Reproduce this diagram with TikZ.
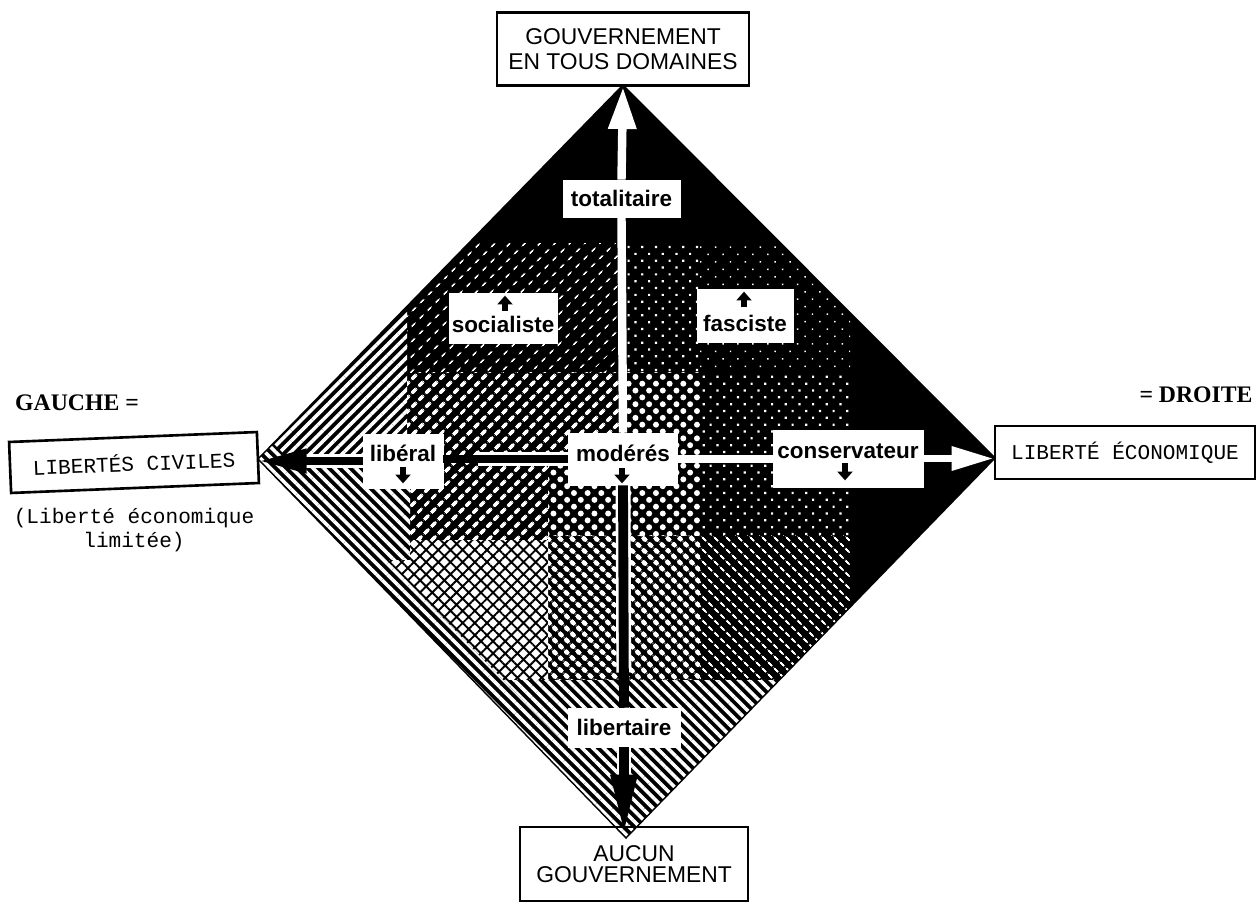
\documentclass[tikz,border=0pt]{standalone}
\usepackage{fontspec}
\setmainfont{Liberation Sans}
\newfontfamily\tmono{Liberation Mono}
\newfontfamily\tserif{Liberation Serif}
\usetikzlibrary{patterns.meta,arrows.meta,calc}

\newcommand\mkdash[5]{%
\pgfdeclarepattern{
  name=#1, type=uncolored,
  bottom left={\pgfpoint{0pt}{0pt}}, top right={\pgfpoint{#3}{#3}},
  tile size={\pgfpoint{#3}{#3}},
  tile transformation={\pgftransformrotate{#2}},
  code={\pgfsetlinewidth{#5}\pgfsetroundcap
    \pgfpathmoveto{\pgfpoint{0.5*#3-0.5*#4}{0.5*#3}}
    \pgfpathlineto{\pgfpoint{0.5*#3+0.5*#4}{0.5*#3}}
    \pgfusepath{stroke}}
}}
\mkdash{dNEs}{45}{6.5pt}{2.6pt}{1.1pt}
\mkdash{dNEb}{45}{5.8pt}{2.2pt}{2.4pt}
\mkdash{dNWb}{-45}{5pt}{3pt}{1.2pt}
\mkdash{dNWblob}{-45}{4.8pt}{1.3pt}{2.6pt}

\tikzset{
  wh/.style 2 args={minimum width=#1*0.02cm, minimum height=#2*0.02cm},
  obox/.style={draw, line width=1.5pt, inner sep=0pt, align=center},
  sansbig/.style={font=\fontsize{13}{14.2}\selectfont},
  monotxt/.style={font=\tmono\fontsize{12}{13.4}\selectfont},
  sertxt/.style={font=\tserif\bfseries\fontsize{13.5}{15}\selectfont},
  ibox/.style={fill=white, draw=white, inner sep=0pt, font=\bfseries\fontsize{12.8}{15}\selectfont},
  stripeNE/.style={pattern={Lines[angle=45,distance=4.3pt,line width=2pt]}, pattern color=white},
  stripeNW/.style={pattern={Lines[angle=-45,distance=4.3pt,line width=2pt]}, pattern color=white},
  dotsbig/.style={pattern={Dots[angle=45,distance=5.5pt,radius=1.7pt]}, pattern color=white},
  dotssmall/.style={pattern={Dots[angle=45,distance=5.5pt,radius=0.9pt]}, pattern color=white},
  dotstiny/.style={pattern={Dots[angle=45,distance=6pt,radius=0.6pt]}, pattern color=white},
  dashS/.style={pattern=dNEs, pattern color=white},
  dashB/.style={pattern=dNEb, pattern color=white},
  dashNW/.style={pattern=dNWb, pattern color=white},
  blobNW/.style={pattern=dNWblob, pattern color=white},
  xhatch/.style={pattern={Hatch[angle=45,distance=4.9pt,line width=1.1pt]}, pattern color=black},
  wbarv/.style={draw=white, line width=4.8pt},
  wbarh/.style={draw=white, line width=4pt},
  bbarv/.style={draw=black, line width=5.6pt, preaction={draw=white, line width=8.5pt, -, shorten >=20pt}},
  bbarh/.style={draw=black, line width=4.5pt, preaction={draw=white, line width=7.5pt, -, shorten >=20pt}},
  minarr/.style={draw=black, line width=3pt, -{Triangle[length=5pt,width=8.5pt]}}
}

\begin{document}
\begin{tikzpicture}[x=0.02cm, y=-0.02cm]
\useasboundingbox (0,0) rectangle (1258,903);

\coordinate (T) at (623,85);
\coordinate (L) at (258,459);
\coordinate (R) at (995,458);
\coordinate (B) at (626,838);

% ---------- shaded diamond ----------
\begin{scope}
  \clip (T) -- (R) -- (B) -- (L) -- cycle;
  \fill[black] (250,80) rectangle (1000,845);
  % left column (stripes along the upper-left edge)
  \fill[stripeNE] (250,242) rectangle (407,458);
  % upper band
  \fill[dashS] (407,243) rectangle (623,372);
  \fill[dotssmall] (623,243) rectangle (700,372);
  \fill[dotstiny] (700,243) rectangle (850,372);
  % lower part of upper half
  \fill[dashB] (407,372) rectangle (623,458);
  \fill[dotsbig] (623,372) rectangle (700,458);
  \fill[dotssmall] (700,372) rectangle (850,458);
  % upper part of lower half
  \fill[stripeNW] (250,458) rectangle (410,560);
  \fill[dashB] (410,458) rectangle (548,540);
  \fill[dotsbig] (548,458) rectangle (700,535);
  \fill[dotssmall] (700,458) rectangle (850,535);
  % crosshatch zone
  \fill[white] (340,560) -- (410,560) -- (410,540) -- (548,540) -- (548,690) -- (340,690) -- cycle;
  \fill[xhatch] (340,560) -- (410,560) -- (410,540) -- (548,540) -- (548,690) -- (340,690) -- cycle;
  \fill[blobNW] (548,535) rectangle (700,680);
  \fill[dashNW] (700,535) rectangle (850,680);
  % bottom band
  \fill[black] (250,680) rectangle (860,845);
  \fill[stripeNW] (250,680) rectangle (860,845);
  % band along lower-left edge
  \fill[black] (L) -- (B) -- ($(B)+(16,-15)$) -- ($(L)+(16,-15)$) -- cycle;
  \fill[stripeNW] (L) -- (B) -- ($(B)+(16,-15)$) -- ($(L)+(16,-15)$) -- cycle;
\end{scope}
\draw[line width=0.8pt] (T) -- (R) -- (B) -- (L) -- cycle;

% ---------- outer boxes and texts ----------
\node[obox, sansbig, wh={252}{73}] (gov) at (623,49) {GOUVERNEMENT\\EN TOUS DOMAINES};
\node[obox, font=\fontsize{13}{12.3}\selectfont, wh={228}{74}] (aucun) at (634,864) {AUCUN\\GOUVERNEMENT};
\node[obox, monotxt, wh={248}{51}, rotate=2.3] (civ) at (134,462.5) {LIBERTÉS CIVILES};
\node[obox, monotxt, wh={260}{53}] (eco) at (1125,452.5) {LIBERTÉ ÉCONOMIQUE};
\node[sertxt] (gauche) at (77,403) {GAUCHE =};
\node[sertxt] (droite) at (1196,395) {= DROITE};
\node[monotxt, align=center] (limit) at (134,530) {(Liberté économique\\limitée)};

% ---------- inner labels ----------
\node[ibox, wh={117}{37}] (tot) at (621.5,198.5) {totalitaire};
\node[ibox, wh={108}{50}] (soc) at (503,318) {\raisebox{-8.5pt}[0pt][0pt]{socialiste}};
\node[ibox, wh={96}{53}] (fas) at (745,315.5) {\raisebox{-9pt}[0pt][0pt]{fasciste}};
\node[ibox, wh={80}{54}] (lib) at (403,461) {\raisebox{0pt}[0pt][0pt]{libéral}};
\node[ibox, wh={109}{52}] (mod) at (623,459) {\raisebox{-1.5pt}[0pt][0pt]{modérés}};
\node[ibox, wh={150}{57}] (cons) at (848,458.5) {\raisebox{0pt}[0pt][0pt]{conservateur}};
\node[ibox, wh={112}{39}] (libt) at (624,727.5) {libertaire};

% small arrows inside the labels
\draw[minarr] ($(soc.north)+(2,18)$) -- ($(soc.north)+(2,3)$);
\draw[minarr] ($(fas.north)+(-1,18)$) -- ($(fas.north)+(-1,3)$);
\draw[minarr] ($(lib.south)+(0,-21)$) -- ($(lib.south)+(0,-5)$);
\draw[minarr] ($(mod.south)+(-1,-17)$) -- ($(mod.south)+(-1,-2)$);
\draw[minarr] ($(cons.south)+(-3,-24)$) -- ($(cons.south)+(-3,-7)$);

% ---------- axes ----------
\draw[wbarv] (mod.north) -- (tot.south);
\draw[wbarv, -{Triangle[length=24pt,width=15pt]}] (tot.north) -- (gov.south);
\draw[bbarv] (mod.south) -- (libt.north);
\draw[bbarv, -{Triangle[length=34pt,width=14pt]}, shorten >=-5pt] (libt.south) -- (libt.south |- aucun.north);
\draw[bbarh] (mod.west) -- (mod.west -| lib.east);
\draw[bbarh, -{Triangle[length=27pt,width=13pt]}] (lib.west) -- (lib.west -| civ.east);
\draw[wbarh] (mod.east) -- (mod.east -| cons.west);
\draw[wbarh, -{Triangle[length=24pt,width=13pt]}] (cons.east) -- (cons.east -| eco.west);
\end{tikzpicture}
\end{document}
